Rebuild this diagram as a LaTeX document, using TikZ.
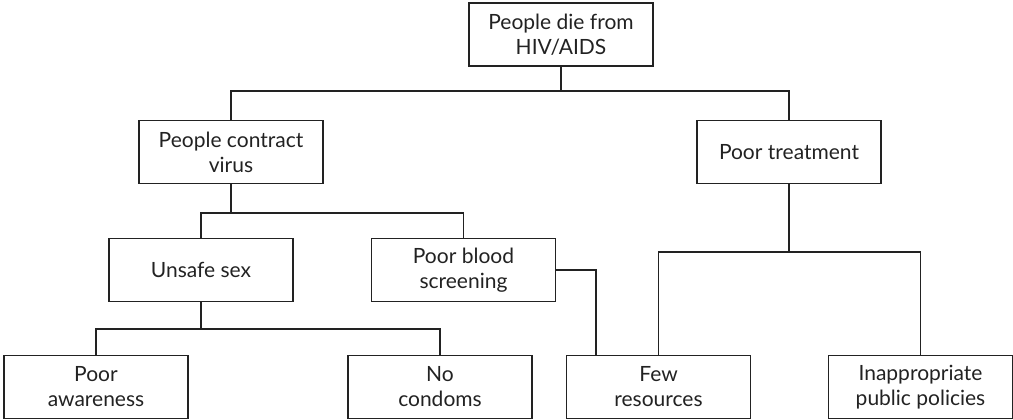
\documentclass[tikz,border=0pt]{standalone}
\usepackage{fontspec}
\setmainfont{Lato}
\definecolor{ink}{HTML}{222222}
\begin{document}
\begin{tikzpicture}[x=1pt,y=-1pt,
  box/.style={draw=ink, line width=1.2pt, minimum width=184pt, minimum height=63pt,
    inner sep=0pt, align=center, text=ink, font=\fontsize{21}{25}\selectfont},
  link/.style={draw=ink, line width=1.2pt}]
\useasboundingbox (0,0) rectangle (1013,420);

% boxes
\node[box] (top)       at (561,34.5)  {People die from\\HIV/AIDS};
\node[box] (contract)  at (231,152)   {People contract\\virus};
\node[box] (treatment) at (789,152)   {Poor treatment};
\node[box] (unsafe)    at (201,270)   {Unsafe sex};
\node[box] (blood)     at (463.5,270) {Poor blood\\screening};
\node[box] (aware)     at (96,387)    {Poor\\awareness};
\node[box] (condoms)   at (440,387)   {No\\condoms};
\node[box] (few)       at (658.5,387) {Few\\resources};
\node[box] (policies)  at (920.5,387) {Inappropriate\\public policies};

% junction points
\coordinate (j1) at (561,91);
\coordinate (j2) at (231,213);
\coordinate (j3) at (201,329);
\coordinate (j4) at (789,252);

% connectors
\draw[link] (top.south) -- (j1);
\draw[link] (j1) -| (contract.north);
\draw[link] (j1) -| (treatment.north);

\draw[link] (contract.south) -- (j2);
\draw[link] (j2) -| (unsafe.north);
\draw[link] (j2) -| (blood.north);

\draw[link] (unsafe.south) -- (j3);
\draw[link] (j3) -| (aware.north);
\draw[link] (j3) -| (condoms.north);

\draw[link] (blood.east) -| ([xshift=30pt]few.north west);

\draw[link] (treatment.south) -- (j4);
\draw[link] (j4) -| (few.north);
\draw[link] (j4) -| (policies.north);
\end{tikzpicture}
\end{document}
